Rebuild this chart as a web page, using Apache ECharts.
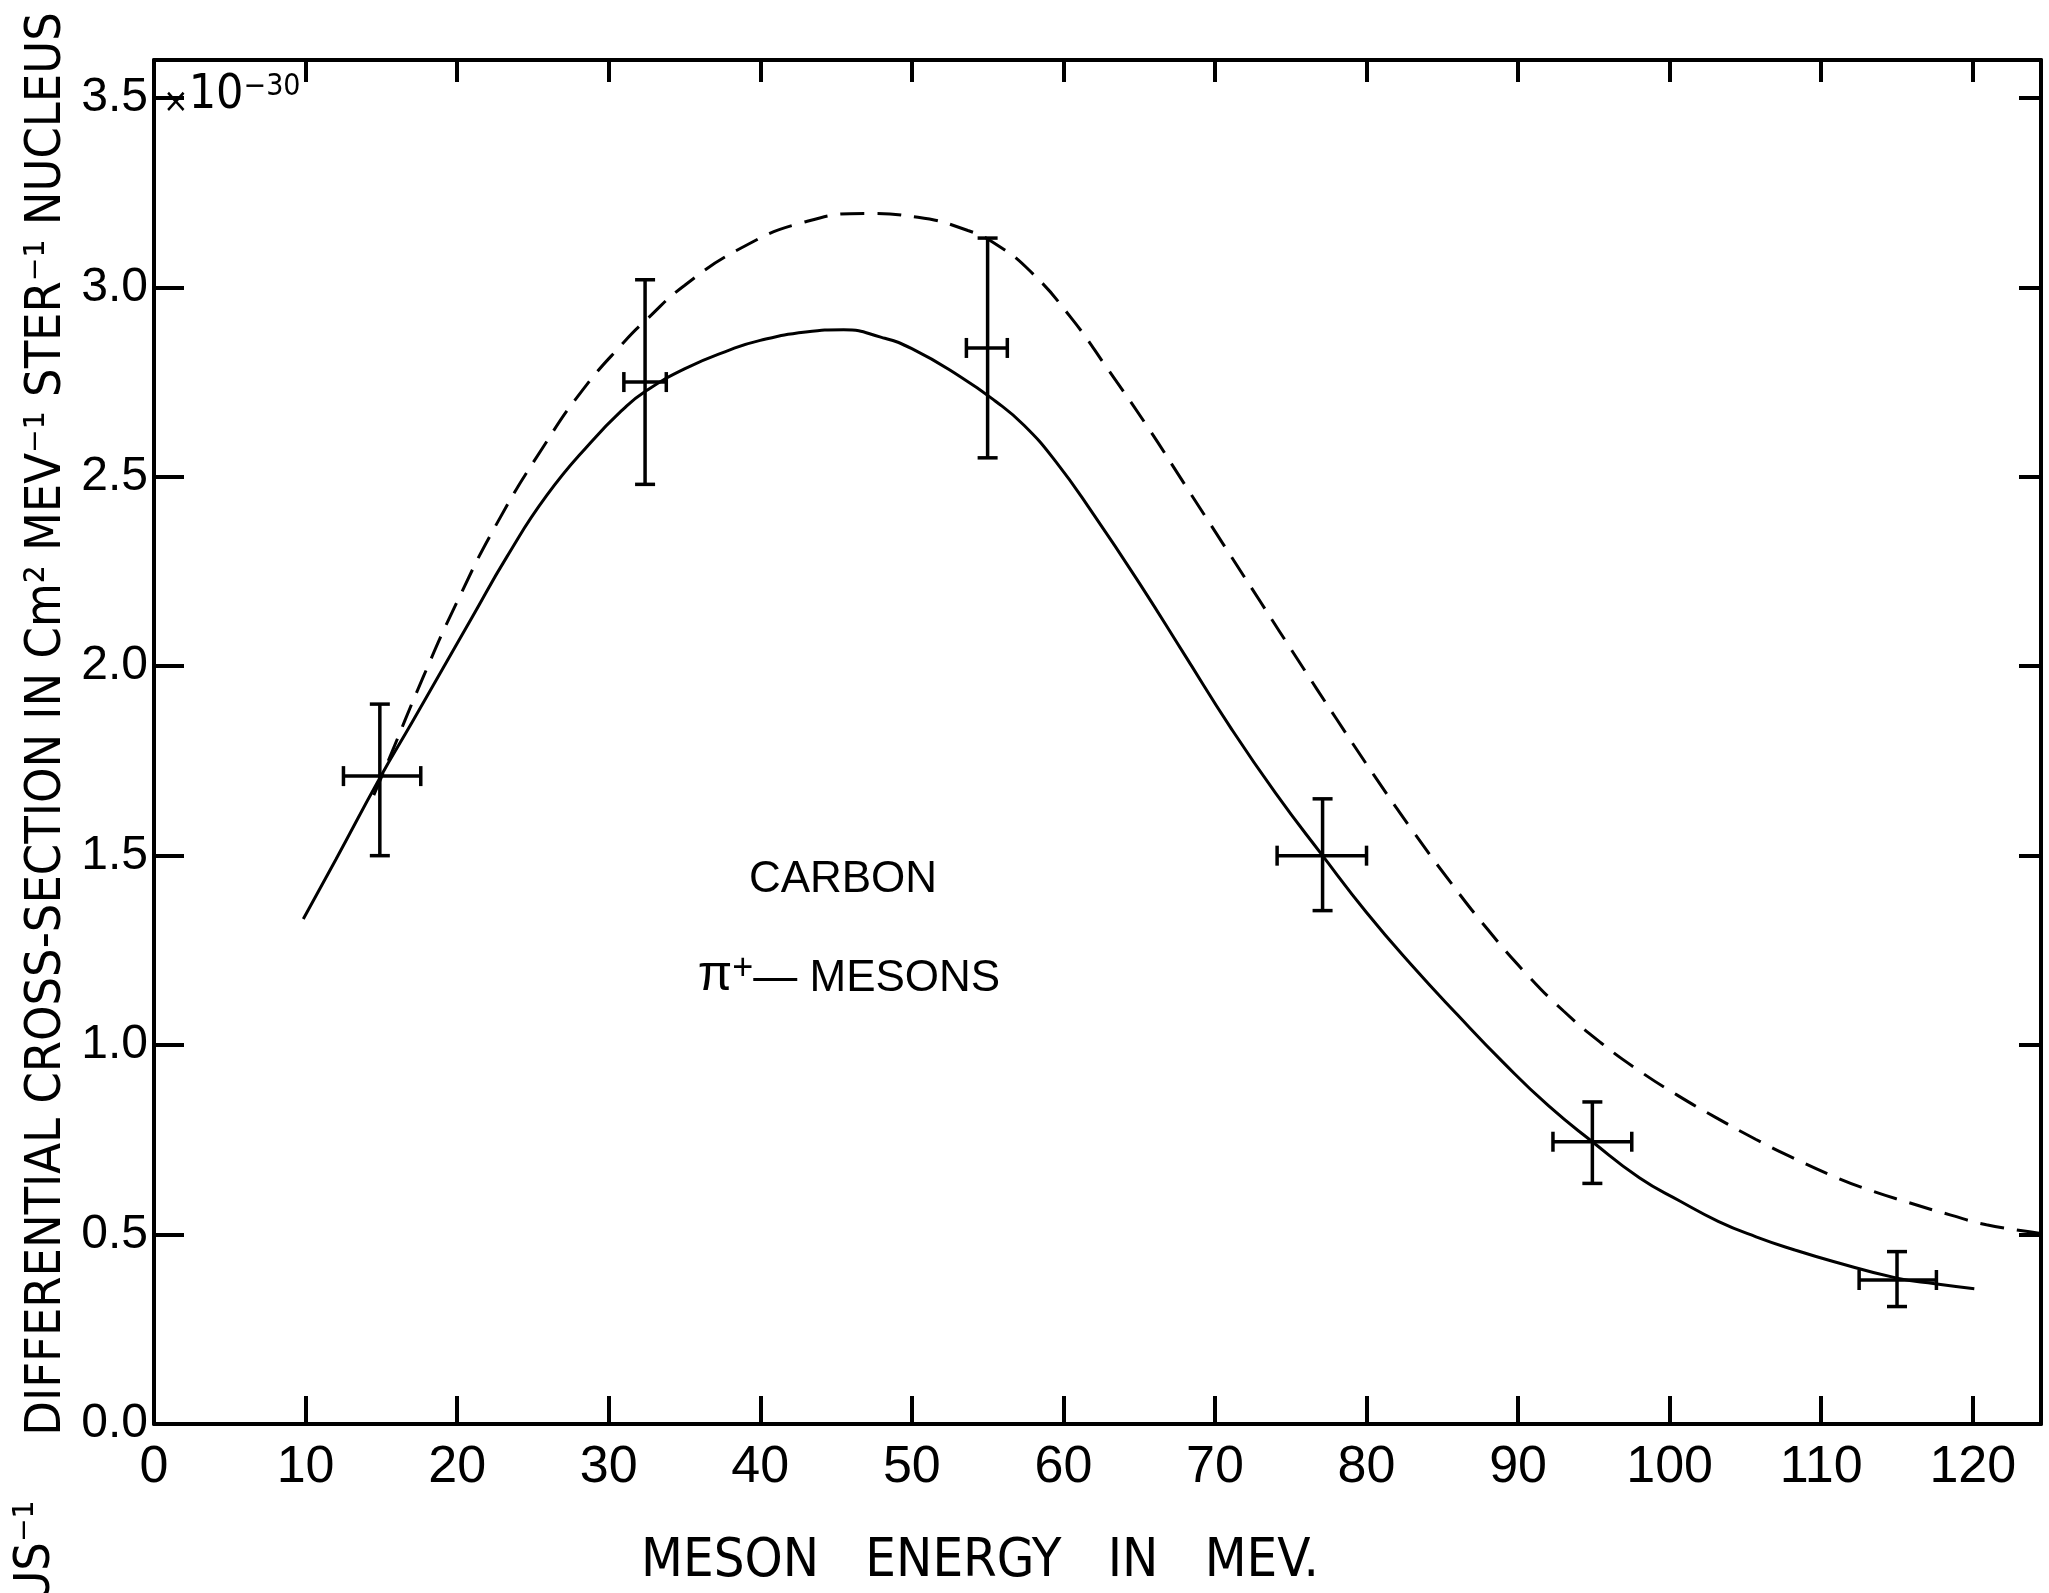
<!DOCTYPE html>
<html>
<head>
<meta charset="utf-8">
<script src="https://cdn.jsdelivr.net/npm/echarts/dist/echarts.min.js"></script>
<style>
html,body{margin:0;padding:0;background:#fff;}
#chart{width:2049px;height:1593px;}
</style>
</head>
<body>
<div id="chart"></div>
<script>
// ---- data ----
const xTicks = [0, 10, 20, 30, 40, 50, 60, 70, 80, 90, 100, 110, 120];
const yTicks = [0.0, 0.5, 1.0, 1.5, 2.0, 2.5, 3.0, 3.5];

// experimental points with errors
const pointX    = [14.9, 32.4, 55.0, 77.1, 94.9, 115.0];
const pointY    = [1.71, 2.75, 2.84, 1.50, 0.745, 0.38];
const pointYLow = [1.50, 2.48, 2.55, 1.355, 0.635, 0.31];
const pointYHigh= [1.90, 3.02, 3.13, 1.65, 0.85, 0.455];
const pointXLow = [12.5, 31.0, 53.6, 74.1, 92.3, 112.5];
const pointXHigh= [17.6, 33.8, 56.3, 80.0, 97.5, 117.6];

// solid theoretical curve
const solidX = [9.85, 12, 14.9, 17, 19, 21, 23.3, 25.9, 28.8, 31, 32.4, 35, 38, 40, 43, 45.5, 48, 50, 53.2, 55.5, 57.4, 59.5, 62, 65, 68, 71, 74, 77.1, 80, 83, 86, 89, 92, 94.9, 98, 100.7, 103.2, 105.7, 108.2, 110.8, 115, 117.5, 120.1];
const solidY = [1.333, 1.49, 1.705, 1.85, 1.99, 2.13, 2.29, 2.45, 2.59, 2.68, 2.725, 2.785, 2.835, 2.86, 2.882, 2.888, 2.868, 2.838, 2.764, 2.70, 2.636, 2.54, 2.40, 2.22, 2.03, 1.84, 1.665, 1.50, 1.35, 1.21, 1.08, 0.955, 0.84, 0.745, 0.65, 0.588, 0.535, 0.494, 0.46, 0.429, 0.385, 0.37, 0.357];

// dashed theoretical curve
const dashX = [14.5, 15.35, 17.8, 20, 22.6, 25.7, 28.3, 31, 32.5, 35, 38.8, 42.8, 46.9, 50.4, 53.7, 55.5, 57.8, 60.5, 63, 65.5, 68, 70.5, 73, 75.5, 78, 80.5, 83, 85.5, 88, 90.5, 93, 95.5, 98, 100.5, 103, 105.7, 108, 110.8, 113, 115.8, 118.5, 120.9, 124.5];
const dashY = [1.66, 1.74, 1.975, 2.17, 2.375, 2.58, 2.73, 2.855, 2.915, 3.005, 3.105, 3.171, 3.195, 3.185, 3.15, 3.115, 3.043, 2.92, 2.78, 2.635, 2.48, 2.325, 2.17, 2.015, 1.862, 1.712, 1.568, 1.432, 1.305, 1.19, 1.09, 1.005, 0.932, 0.868, 0.81, 0.751, 0.705, 0.654, 0.62, 0.584, 0.552, 0.526, 0.503];

const xMin = 0, xMax = 124.5, yMin = 0, yMax = 3.6;

// ---- build ----
const solidData = solidX.map((x, i) => [x, solidY[i]]);
const dashData = dashX.map((x, i) => [x, dashY[i]]);
const errData = pointX.map((x, i) => [x, pointY[i], pointYLow[i], pointYHigh[i], pointXLow[i], pointXHigh[i]]);

const chart = echarts.init(document.getElementById('chart'), null, {renderer: 'canvas'});
const INK = '#000';
const condFont = "'DejaVu Sans Condensed', 'Liberation Sans Narrow', 'Liberation Sans', sans-serif";
const tickFont = "'Liberation Sans', Arial, sans-serif";
const textFont = "'Liberation Sans', 'DejaVu Sans', sans-serif";

function onTick(list) {
  return function (v) {
    for (const t of list) if (Math.abs(t - v) < 1e-6) return true;
    return false;
  };
}
const isX = onTick(xTicks), isY = onTick(yTicks);

const errStyle = {stroke: INK, lineWidth: 3.5, fill: null};

const option = {
  backgroundColor: '#fff',
  animation: false,
  grid: {left: 154, right: 8, top: 60, bottom: 169, containLabel: false},
  xAxis: [
    {
      type: 'value', min: xMin, max: xMax, interval: 10, position: 'bottom',
      axisLine: {show: true, onZero: false, lineStyle: {color: INK, width: 4}},
      axisTick: {show: true, inside: true, length: 28, lineStyle: {color: INK, width: 4}},
      axisLabel: {
        show: true, margin: 18, color: INK, fontSize: 52, fontFamily: tickFont,
        formatter: v => isX(v) ? String(Math.round(v)) : ''
      },
      splitLine: {show: false}
    },
    {
      type: 'value', min: xMin, max: xMax, interval: 10, position: 'top',
      axisLine: {show: true, onZero: false, lineStyle: {color: INK, width: 4}},
      axisTick: {show: true, inside: true, length: 22, lineStyle: {color: INK, width: 4}},
      axisLabel: {show: false},
      splitLine: {show: false}
    }
  ],
  yAxis: [
    {
      type: 'value', min: yMin, max: yMax, interval: 0.5, position: 'left',
      axisLine: {show: true, onZero: false, lineStyle: {color: INK, width: 4}},
      axisTick: {show: true, inside: true, length: 30, lineStyle: {color: INK, width: 4}},
      axisLabel: {
        show: true, margin: 6, color: INK, fontSize: 48, fontFamily: tickFont,
        formatter: v => isY(v) ? v.toFixed(1) : ''
      },
      splitLine: {show: false}
    },
    {
      type: 'value', min: yMin, max: yMax, interval: 0.5, position: 'right',
      axisLine: {show: true, onZero: false, lineStyle: {color: INK, width: 4}},
      axisTick: {show: true, inside: true, length: 22, lineStyle: {color: INK, width: 4}},
      axisLabel: {show: false},
      splitLine: {show: false}
    }
  ],
  series: [
    {
      name: 'solid', type: 'line', data: solidData, smooth: 0.5, showSymbol: false,
      lineStyle: {color: INK, width: 3}, z: 3
    },
    {
      name: 'dashed', type: 'line', data: dashData, smooth: 0.5, showSymbol: false,
      lineStyle: {color: INK, width: 3, type: [24, 13]}, z: 3
    },
    {
      name: 'points', type: 'custom', data: errData, z: 4,
      renderItem: function (params, api) {
        const x = api.value(0), y = api.value(1);
        const yl = api.value(2), yh = api.value(3), xl = api.value(4), xh = api.value(5);
        const top = api.coord([x, yh]), bot = api.coord([x, yl]);
        const left = api.coord([xl, y]), right = api.coord([xh, y]);
        const capH = 10, capV = 10;
        return {
          type: 'group',
          children: [
            {type: 'line', shape: {x1: top[0], y1: top[1], x2: bot[0], y2: bot[1]}, style: errStyle},
            {type: 'line', shape: {x1: top[0] - capH, y1: top[1], x2: top[0] + capH, y2: top[1]}, style: errStyle},
            {type: 'line', shape: {x1: bot[0] - capH, y1: bot[1], x2: bot[0] + capH, y2: bot[1]}, style: errStyle},
            {type: 'line', shape: {x1: left[0], y1: left[1], x2: right[0], y2: right[1]}, style: errStyle},
            {type: 'line', shape: {x1: left[0], y1: left[1] - capV, x2: left[0], y2: left[1] + capV}, style: errStyle},
            {type: 'line', shape: {x1: right[0], y1: right[1] - capV, x2: right[0], y2: right[1] + capV}, style: errStyle}
          ]
        };
      }
    }
  ],
  graphic: [
    {
      type: 'text', x: 47, y: 724, rotation: Math.PI / 2,
      style: {
        text: 'DIFFERENTIAL CROSS-SECTION IN Cm² MEV⁻¹ STER⁻¹ NUCLEUS',
        x: 0, y: 0, align: 'center', verticalAlign: 'middle',
        font: '50px ' + condFont, fill: INK
      }
    },
    {
      type: 'text', x: 36, y: 1552, rotation: Math.PI / 2,
      style: {
        text: 'US⁻¹', x: 0, y: 0, align: 'center', verticalAlign: 'middle',
        font: '50px ' + condFont, fill: INK
      }
    },
    {
      type: 'text', x: 163, y: 96,
      style: {
        text: '{a|×}{b|10}{c|−30}', x: 0, y: 0, align: 'left', verticalAlign: 'middle',
        fill: INK,
        rich: {
          a: {fontSize: 34, fontFamily: condFont, verticalAlign: 'bottom', fill: INK},
          b: {fontSize: 48, fontFamily: condFont, verticalAlign: 'bottom', fill: INK},
          c: {fontSize: 30, fontFamily: condFont, verticalAlign: 'top', fill: INK}
        }
      }
    },
    {
      type: 'text', x: 980, y: 1562,
      style: {
        text: 'MESON   ENERGY   IN   MEV.', x: 0, y: 0, align: 'center', verticalAlign: 'middle',
        font: '54px ' + condFont, fill: INK
      }
    },
    {
      type: 'text', x: 843, y: 880,
      style: {
        text: 'CARBON', x: 0, y: 0, align: 'center', verticalAlign: 'middle',
        font: '44px ' + textFont, fill: INK
      }
    },
    {
      type: 'text', x: 849, y: 976,
      style: {
        text: '{p|π}{s|+}{m|— MESONS}', x: 0, y: 0, align: 'center', verticalAlign: 'middle',
        fill: INK,
        rich: {
          p: {fontSize: 50, fontFamily: textFont, verticalAlign: 'bottom', fill: INK},
          s: {fontSize: 36, fontFamily: textFont, verticalAlign: 'top', fill: INK},
          m: {fontSize: 44, fontFamily: textFont, verticalAlign: 'bottom', fill: INK}
        }
      }
    }
  ]
};
chart.setOption(option);
</script>
</body>
</html>
